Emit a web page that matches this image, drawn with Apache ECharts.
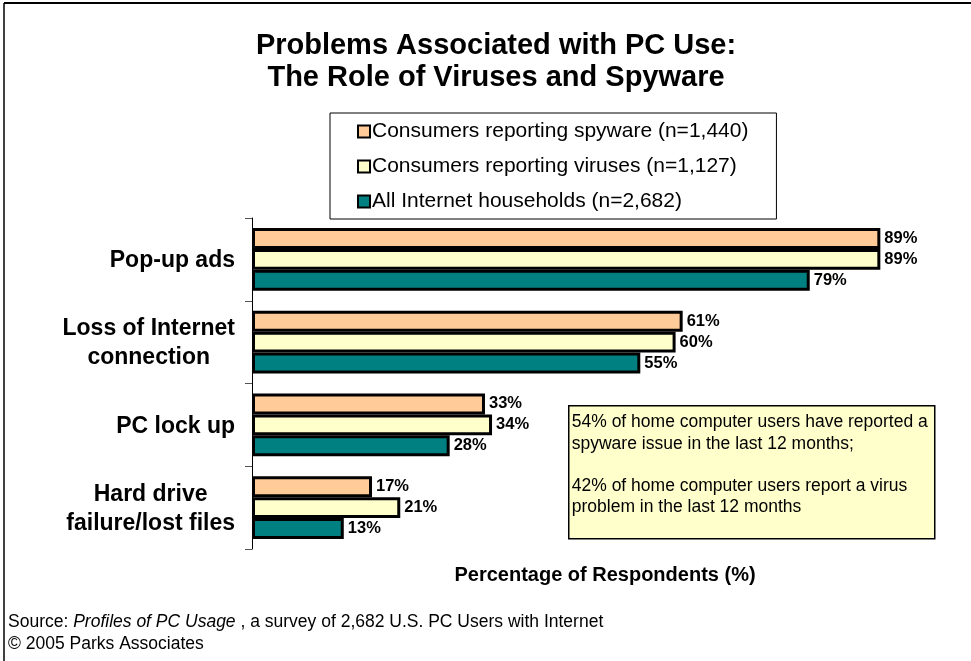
<!DOCTYPE html>
<html>
<head>
<meta charset="utf-8">
<script src="https://cdn.jsdelivr.net/npm/echarts@6/dist/echarts.min.js"></script>
<style>
  html, body { margin: 0; padding: 0; background: #fff; }
  #chart { width: 971px; height: 661px; }
</style>
</head>
<body>
<div id="chart"></div>
<script>
// Problems reported by PC users, share of respondents (%)
const categories = ['Pop-up ads', 'Loss of Internet\nconnection', 'PC lock up', 'Hard drive\nfailure/lost files'];
const seriesNames = [
  'Consumers reporting spyware (n=1,440)',
  'Consumers reporting viruses (n=1,127)',
  'All Internet households (n=2,682)'
];
const spyware = [89, 61, 33, 17];
const viruses = [89, 60, 34, 21];
const households = [79, 55, 28, 13];
const colors = ['#FFCC99', '#FFFFCC', '#008080'];

const titleText = 'Problems Associated with PC Use:\nThe Role of Viruses and Spyware';
const noteText = '54% of home computer users have reported a\nspyware issue in the last 12 months;\n\n42% of home computer users report a virus\nproblem in the last 12 months';

const FONT = 'Arial, "Liberation Sans", Helvetica, sans-serif';

const chart = echarts.init(document.getElementById('chart'), null, { renderer: 'canvas' });

function barSeries(name, data, color) {
  return {
    name: name,
    type: 'bar',
    data: data,
    barGap: '0%',
    barCategoryGap: '24%',
    itemStyle: { color: color, borderColor: '#000', borderWidth: 3 },
    label: {
      show: true,
      position: 'right',
      distance: 4,
      formatter: '{c}%',
      color: '#000',
      fontFamily: FONT,
      fontWeight: 'bold',
      fontSize: 16.5
    },
    emphasis: { disabled: true }
  };
}

const option = {
  animation: false,
  backgroundColor: '#fff',
  textStyle: { fontFamily: FONT },
  title: {
    text: titleText,
    left: 496,
    top: 30,
    padding: 0,
    textAlign: 'center',
    textStyle: { fontFamily: FONT, fontSize: 29, fontWeight: 'bold', color: '#000', lineHeight: 32 }
  },
  legend: {
    orient: 'vertical',
    left: 330,
    top: 113,
    padding: [8, 28, 7, 27],
    itemGap: 14,
    itemWidth: 12,
    itemHeight: 12,
    icon: 'rect',
    backgroundColor: '#fff',
    borderColor: '#000',
    borderWidth: 1,
    borderRadius: 0,
    itemStyle: { borderColor: '#000', borderWidth: 2 },
    textStyle: { fontFamily: FONT, fontSize: 21, color: '#000', padding: [0, 0, 0, -3] },
    selectedMode: false,
    data: seriesNames
  },
  grid: { left: 252, right: 13, top: 218, bottom: 112, containLabel: false },
  xAxis: {
    type: 'value',
    min: 0,
    max: 100,
    name: 'Percentage of Respondents (%)',
    nameLocation: 'middle',
    nameGap: 16,
    nameTextStyle: { fontFamily: FONT, fontSize: 20, fontWeight: 'bold', color: '#000' },
    axisLine: { show: false },
    axisTick: { show: false },
    axisLabel: { show: false },
    splitLine: { show: false }
  },
  yAxis: {
    type: 'category',
    inverse: true,
    data: categories,
    axisLine: { show: true, lineStyle: { color: '#000', width: 1 } },
    axisTick: { show: true, length: 7, lineStyle: { color: '#555' } },
    axisLabel: {
      margin: 17,
      padding: [3, 0, 0, 0],
      formatter: function (v) {
        return v.split('\n').map(function (s) { return '{c|' + s + '}'; }).join('\n');
      },
      rich: {
        c: { fontFamily: FONT, fontSize: 23, fontWeight: 'bold', color: '#000', align: 'center', lineHeight: 29 }
      }
    }
  },
  series: [
    barSeries(seriesNames[0], spyware, colors[0]),
    barSeries(seriesNames[1], viruses, colors[1]),
    barSeries(seriesNames[2], households, colors[2])
  ],
  graphic: [
    // frame lines along the top and left edges
    { type: 'line', shape: { x1: 4, y1: 3, x2: 971, y2: 3 }, style: { stroke: '#000', lineWidth: 2 }, silent: true },
    { type: 'line', shape: { x1: 4, y1: 3, x2: 4, y2: 661 }, style: { stroke: '#000', lineWidth: 1.5 }, silent: true },
    // callout box
    {
      type: 'group', left: 568, top: 405, silent: true,
      children: [
        { type: 'rect', shape: { x: 0, y: 0, width: 366, height: 133 }, style: { fill: '#FFFFCC', stroke: '#000', lineWidth: 1.5 } },
        { type: 'text', x: 3, y: 6, style: { text: noteText, fontFamily: FONT, fontSize: 17.5, lineHeight: 21.3, fill: '#000' } }
      ]
    },
    // source note
    {
      type: 'text', left: 8, top: 611, silent: true,
      style: {
        text: 'Source: {i|Profiles of PC Usage} , a survey of 2,682 U.S. PC Users with Internet\n\u00A9 2005 Parks Associates',
        fontFamily: FONT, fontSize: 17.5, lineHeight: 22, fill: '#000',
        rich: { i: { fontStyle: 'italic', fontFamily: FONT, fontSize: 17.5, lineHeight: 22 } }
      }
    }
  ]
};

chart.setOption(option);
</script>
</body>
</html>
